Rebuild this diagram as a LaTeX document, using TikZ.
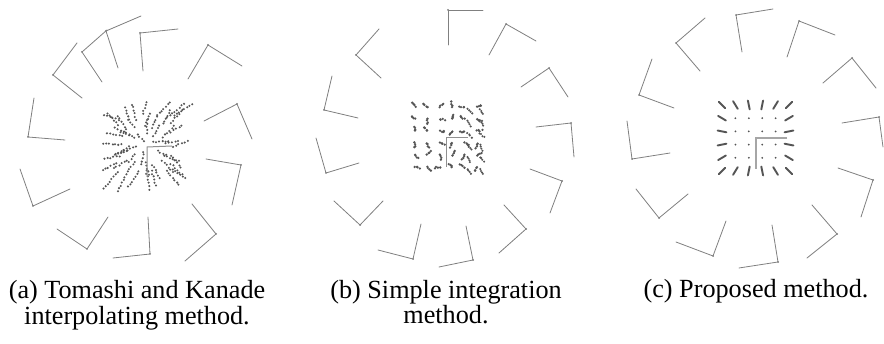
\documentclass[tikz,border=0pt]{standalone}
\usepackage{fontspec}
\setmainfont{Liberation Serif}
\definecolor{framegray}{HTML}{808080}
\definecolor{ptgray}{HTML}{555555}
\definecolor{axgray}{HTML}{909090}
\tikzset{
  cam/.style={draw=framegray, line width=0.8pt, line cap=round, line join=miter},
  ptc/.style={fill=ptgray},
  streak/.style={draw=ptgray, line width=1.9pt, line cap=round},
  axes/.style={draw=axgray, line width=1pt},
  capt/.style={font=\fontsize{26.2}{25.5}\selectfont, align=center, inner sep=0pt},
}
\newcommand\camframe[3]{\draw[cam] #2 -- #1 -- #3; \fill[framegray] #1 circle (1);}
\begin{document}
\begin{tikzpicture}[x=1pt,y=-1pt]
\useasboundingbox[fill=white] (0,0) rectangle (884,344);
% ---------------- panel (a) ----------------
\camframe{(106,31)}{(141,16)}{(118,68)}
\camframe{(82,52)}{(107,30)}{(102,82)}
\camframe{(140,33)}{(178,29)}{(143,71)}
\camframe{(208,45)}{(242,66)}{(188,79)}
\camframe{(53,75)}{(77,43)}{(82,98)}
\camframe{(237,104)}{(204,121)}{(252,139)}
\camframe{(28,137)}{(34,98)}{(65,140)}
\camframe{(241,165)}{(206,159)}{(232,205)}
\camframe{(33,206)}{(20,169)}{(70,189)}
\camframe{(216,234)}{(192,204)}{(185,261)}
\camframe{(87,249)}{(57,229)}{(108,217)}
\camframe{(150,254)}{(148,217)}{(113,258)}
\pgfmathsetseed{5}
\foreach \i in {0,...,6}{\foreach \j in {0,...,6}{
  \pgfmathsetmacro\px{(\i-3)*9+(rnd-0.5)*7}
  \pgfmathsetmacro\py{(\j-3)*9+(rnd-0.5)*7}
  \pgfmathsetmacro\ang{atan2(\py,\px)+(rnd-0.5)*50}
  \pgfmathsetmacro\rad{veclen(\px,\py)}
  \pgfmathtruncatemacro\n{2+0.09*\rad+rnd*2.5}
  \foreach \k in {0,...,\n}{
    \pgfmathsetmacro\qx{146+\px+\k*3.1*cos(\ang)+(rnd-0.5)*1.3}
    \pgfmathsetmacro\qy{144+\py+\k*3.1*sin(\ang)+(rnd-0.5)*1.3}
    \fill[ptc] (\qx,\qy) circle (1.15);
  }}}
\draw[axes] (172,146) -- (147,147) -- (147,177);
% ---------------- panel (b) ----------------
\camframe{(448,10)}{(483,10)}{(448,45)}
\camframe{(506,24)}{(536,41)}{(489,55)}
\camframe{(549,68)}{(521,87)}{(568,97)}
\camframe{(571,123)}{(536,127)}{(574,157)}
\camframe{(562,181)}{(530,169)}{(550,213)}
\camframe{(526,229)}{(504,205)}{(499,253)}
\camframe{(473,260)}{(466,226)}{(439,267)}
\camframe{(413,259)}{(421,224)}{(378,250)}
\camframe{(360,225)}{(334,201)}{(383,201)}
\camframe{(326,173)}{(316,138)}{(359,163)}
\camframe{(324,110)}{(332,76)}{(358,118)}
\camframe{(356,55)}{(379,29)}{(381,78)}
\pgfmathsetseed{11}
\foreach \i in {0,...,5}{\foreach \j in {0,...,5}{
  \pgfmathsetmacro\px{415+12.4*\i}
  \pgfmathsetmacro\py{107+12*\j}
  \pgfmathsetmacro\ang{rnd*360}
  \foreach \k in {0,...,3}{
    \pgfmathsetmacro\qx{\px+\k*1.6*cos(\ang)+(rnd-0.5)*1.5}
    \pgfmathsetmacro\qy{\py+\k*1.6*sin(\ang)+(rnd-0.5)*1.5}
    \fill[ptc] (\qx,\qy) circle (1.3);
  }
  \ifnum\i>3
    \pgfmathsetmacro\angb{55+(rnd-0.5)*30}
    \foreach \k in {0,...,3}{
      \pgfmathsetmacro\qx{\px+3+\k*2*cos(\angb)+(rnd-0.5)*1}
      \pgfmathsetmacro\qy{\py+2+\k*2*sin(\angb)+(rnd-0.5)*1}
      \fill[ptc] (\qx,\qy) circle (1.15);
    }
  \fi
  }}
\draw[axes] (468,138) -- (446,138) -- (446,167);
% ---------------- panel (c) ----------------
\camframe{(736,15)}{(773,9)}{(742,52)}
\camframe{(799,21)}{(835,35)}{(787,57)}
\camframe{(852,58)}{(823,83)}{(876,88)}
\camframe{(879,117)}{(842,123)}{(883,147)}
\camframe{(873,180)}{(838,168)}{(861,217)}
\camframe{(837,234)}{(812,205)}{(807,258)}
\camframe{(778,262)}{(772,225)}{(739,268)}
\camframe{(713,256)}{(726,221)}{(676,242)}
\camframe{(659,218)}{(636,189)}{(688,194)}
\camframe{(632,159)}{(627,121)}{(670,153)}
\camframe{(639,95)}{(652,59)}{(674,108)}
\camframe{(676,43)}{(705,18)}{(700,71)}
\foreach \i in {0,...,5}{\foreach \j in {0,...,5}{
  \pgfmathsetmacro\px{722+13.4*\i}
  \pgfmathsetmacro\py{105+13.2*\j}
  \pgfmathtruncatemacro\isb{(\i==0)||(\i==5)||(\j==0)||(\j==5)}
  \ifnum\isb=1
    \pgfmathsetmacro\ang{atan2(\py-138,\px-755.5)}
    \draw[streak] (\px,\py) ++(\ang:-4.5) -- ++(\ang:9);
  \else
    \fill[ptc] (\px,\py) circle (1);
  \fi
  }}
\draw[axes, draw=axgray!80, line width=1.2pt] (787,138) -- (756,138) -- (756,169);
% ---------------- captions ----------------
\node[capt] (capa) at (137,305) {(a) Tomashi and Kanade\\interpolating method.};
\node[capt] (capb) at (446,302) {(b) Simple integration\\method.};
\node[capt, anchor=base] (capc) at (756,298) {(c) Proposed method.};
\end{tikzpicture}
\end{document}
